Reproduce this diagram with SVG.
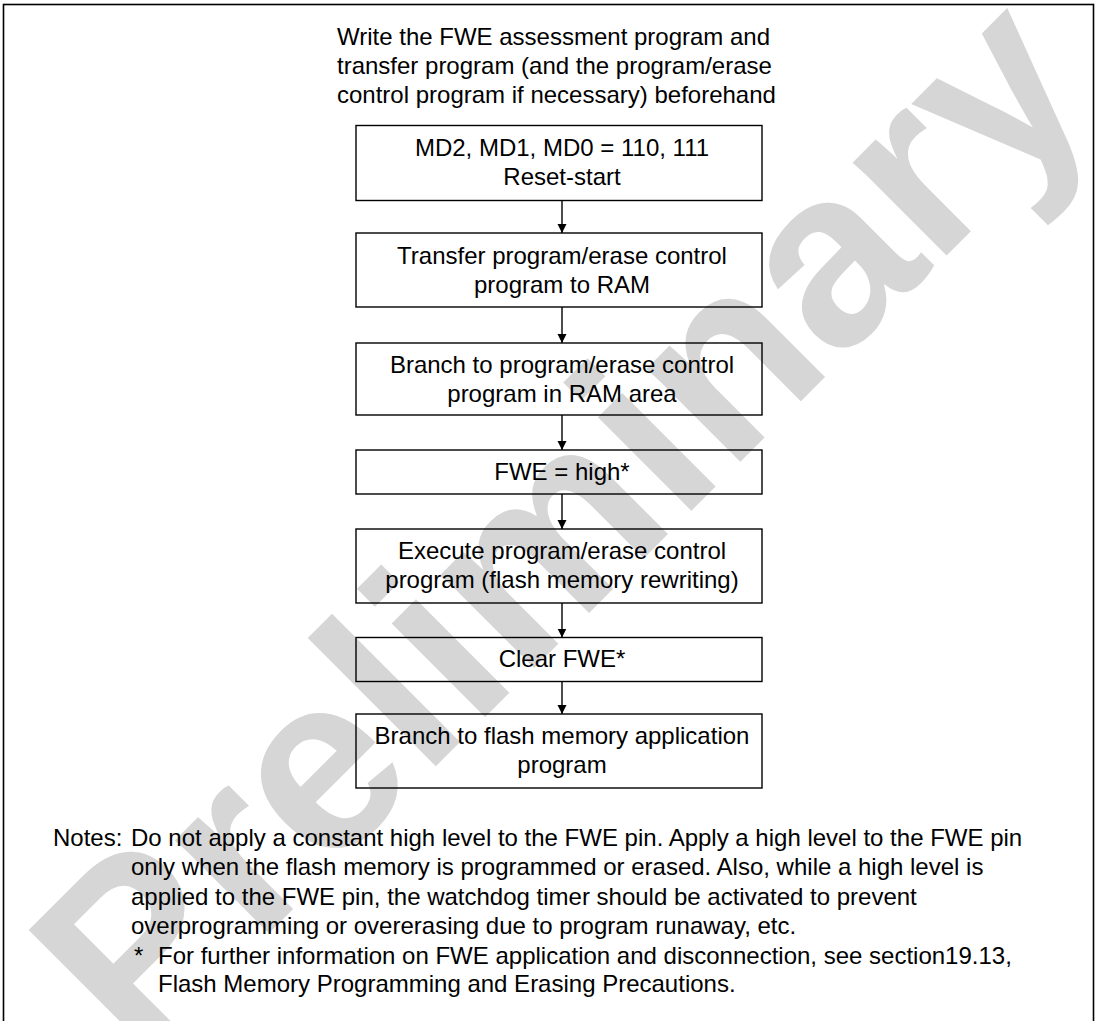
<svg xmlns="http://www.w3.org/2000/svg" width="1099" height="1021" viewBox="0 0 1099 1021">
<defs>
<style>
.t{font-family:"Liberation Sans",Arial,sans-serif;font-size:24px;fill:#000}
.c{text-anchor:middle}
.box{fill:none;stroke:#000;stroke-width:1.4}
.wm{font-family:"Liberation Sans",Arial,sans-serif;font-weight:bold;font-size:250px;fill:#d6d6d6;text-anchor:middle}
.conn{stroke:#000;stroke-width:1.4;fill:none}
</style>
<marker id="ah" markerUnits="userSpaceOnUse" markerWidth="9" markerHeight="12" refX="9" refY="4.5" orient="auto">
<path d="M0,0 L9,4.5 L0,9 z" fill="#000"/>
</marker>
</defs>
<rect width="1099" height="1021" fill="#fff"/>
<text class="wm" x="620" y="582" transform="rotate(-45 620 582)">Preliminary</text>
<rect x="3.5" y="4.5" width="1090" height="1030" fill="none" stroke="#000" stroke-width="1.6"/>
<g id="header">
<text class="t" x="337" y="45">Write the FWE assessment program and</text>
<text class="t" x="337" y="74">transfer program (and the program/erase</text>
<text class="t" x="337" y="103">control program if necessary) beforehand</text>
</g>
<g id="n1">
<rect class="box" x="356" y="125.5" width="406" height="75"/>
<text class="t c" x="562" y="156">MD2, MD1, MD0 = 110, 111</text>
<text class="t c" x="562" y="185">Reset-start</text>
</g>
<g id="n2">
<rect class="box" x="356" y="233" width="406" height="74"/>
<text class="t c" x="562" y="264">Transfer program/erase control</text>
<text class="t c" x="562" y="293">program to RAM</text>
</g>
<g id="n3">
<rect class="box" x="356" y="343" width="406" height="72"/>
<text class="t c" x="562" y="373">Branch to program/erase control</text>
<text class="t c" x="562" y="402">program in RAM area</text>
</g>
<g id="n4">
<rect class="box" x="356" y="450" width="406" height="44"/>
<text class="t c" x="562" y="480">FWE = high*</text>
</g>
<g id="n5">
<rect class="box" x="356" y="529" width="406" height="74"/>
<text class="t c" x="562" y="559">Execute program/erase control</text>
<text class="t c" x="562" y="588">program (flash memory rewriting)</text>
</g>
<g id="n6">
<rect class="box" x="356" y="637.5" width="406" height="44"/>
<text class="t c" x="562" y="667">Clear FWE*</text>
</g>
<g id="n7">
<rect class="box" x="356" y="714" width="406" height="74"/>
<text class="t c" x="562" y="744">Branch to flash memory application</text>
<text class="t c" x="562" y="773">program</text>
</g>
<g id="connectors">
<line class="conn" x1="562" y1="200.5" x2="562" y2="233" marker-end="url(#ah)"/>
<line class="conn" x1="562" y1="307" x2="562" y2="343" marker-end="url(#ah)"/>
<line class="conn" x1="562" y1="415" x2="562" y2="450" marker-end="url(#ah)"/>
<line class="conn" x1="562" y1="494" x2="562" y2="529" marker-end="url(#ah)"/>
<line class="conn" x1="562" y1="603" x2="562" y2="637.5" marker-end="url(#ah)"/>
<line class="conn" x1="562" y1="681.5" x2="562" y2="714" marker-end="url(#ah)"/>
</g>
<g id="notes">
<text class="t" x="53" y="846">Notes:</text>
<text class="t" x="131" y="846">Do not apply a constant high level to the FWE pin. Apply a high level to the FWE pin</text>
<text class="t" x="131" y="875">only when the flash memory is programmed or erased. Also, while a high level is</text>
<text class="t" x="131" y="905">applied to the FWE pin, the watchdog timer should be activated to prevent</text>
<text class="t" x="131" y="934">overprogramming or overerasing due to program runaway, etc.</text>
<text class="t" x="134" y="964">*</text>
<text class="t" x="158" y="964">For further information on FWE application and disconnection, see section19.13,</text>
<text class="t" x="158" y="992">Flash Memory Programming and Erasing Precautions.</text>
</g>
</svg>
